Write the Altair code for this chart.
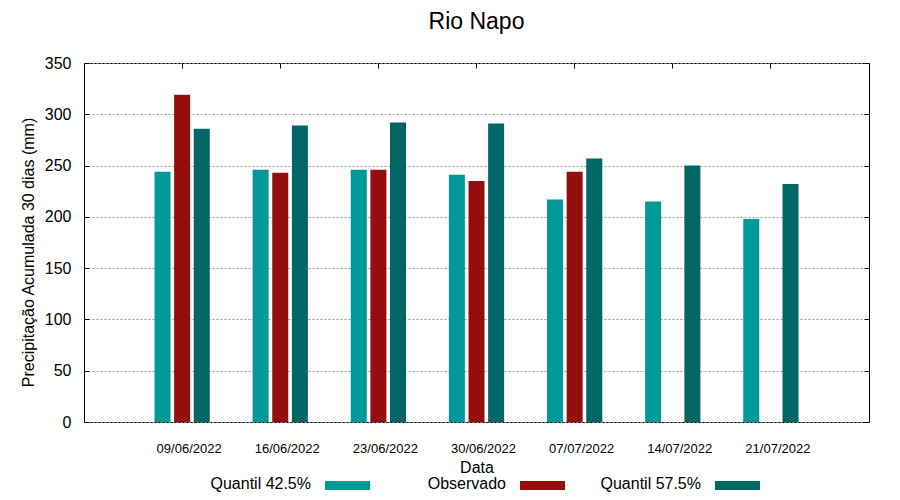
import altair as alt
import pandas as pd

dates = ["09/06/2022", "16/06/2022", "23/06/2022", "30/06/2022",
         "07/07/2022", "14/07/2022", "21/07/2022"]
series = ["Quantil 42.5%", "Observado", "Quantil 57.5%"]
colors = ["#009999", "#940e0e", "#006666"]
q425 = [244, 246, 246, 241, 217, 215, 198]
obs = [319, 243, 246, 235, 244, None, None]
q575 = [286, 289, 292, 291, 257, 250, 232]

rows = []
for i, d in enumerate(dates):
    for s, vals in zip(series, [q425, obs, q575]):
        if vals[i] is not None:
            rows.append({"Data": d, "Serie": s, "Valor": vals[i]})
df = pd.DataFrame(rows)

FONT = "Liberation Sans"
yvals = [0, 50, 100, 150, 200, 250, 300, 350]

xscale = alt.Scale(paddingInner=0, paddingOuter=0.5)
yscale = alt.Scale(domain=[0, 350], nice=False)
xoff = alt.XOffset("Serie:N", sort=series,
                   scale=alt.Scale(domain=series, paddingInner=0, paddingOuter=1))
cenc = alt.Color("Serie:N", scale=alt.Scale(domain=series, range=colors), legend=None)

bars = alt.Chart(df).mark_bar(size=16).encode(
    x=alt.X("Data:N", sort=dates, scale=xscale,
            axis=alt.Axis(title="Data", labelAngle=0, ticks=False, domain=False,
                          labelFontSize=13, labelPadding=20, labelOffset=7,
                          titleFontSize=16, titleFontWeight="normal",
                          titlePadding=4, labelColor="black", titleColor="black",
                          labelFont=FONT, titleFont=FONT)),
    xOffset=xoff,
    y=alt.Y("Valor:Q", scale=yscale,
            axis=alt.Axis(title="Precipitação Acumulada 30 dias (mm)",
                          values=yvals, ticks=True, tickSize=5, offset=-5,
                          tickColor="black", tickWidth=1,
                          domain=False, grid=True,
                          gridColor="#999999", gridDash=[2, 2], gridWidth=1,
                          labelFontSize=16, labelPadding=13, titleFontSize=16,
                          titleFontWeight="normal", titlePadding=8, titleY=189,
                          labelColor="black", titleColor="black",
                          labelFont=FONT, titleFont=FONT)),
    color=cenc,
)

ticks_layer = alt.Chart(df).mark_bar(size=16, opacity=0).encode(
    x=alt.X("Data:N", sort=dates, scale=xscale,
            axis=alt.Axis(orient="top", title=None, labels=False, domain=False,
                          ticks=True, tickSize=5, offset=-5, tickColor="black",
                          tickWidth=1, grid=False)),
    xOffset=xoff,
    y=alt.Y("Valor:Q", scale=yscale,
            axis=alt.Axis(orient="right", title=None, labels=False, domain=False,
                          values=yvals, ticks=True, tickSize=5, offset=-5,
                          tickColor="black", tickWidth=1, grid=False)),
)

main = alt.layer(bars, ticks_layer).resolve_axis(x="independent", y="independent").properties(
    width=785, height=359,
    view=alt.ViewBackground(stroke="black", strokeWidth=1),
    title=alt.TitleParams("Rio Napo", fontSize=23, fontWeight="normal", font=FONT,
                          color="black", anchor="middle", offset=21),
)

leg_df = pd.DataFrame({"Serie": series})
leg_x = alt.X("Serie:N", sort=series, axis=None,
              scale=alt.Scale(type="point", domain=series, range=[241, 631], padding=0))
leg_text = alt.Chart(leg_df).mark_text(align="right", baseline="middle", dx=-14,
                                       fontSize=16, font=FONT, color="black").encode(
    x=leg_x, y=alt.value(7), text="Serie:N")
leg_rect = alt.Chart(leg_df).mark_rect(x2Offset=45).encode(
    x=leg_x, x2="Serie:N", y=alt.value(4), y2=alt.value(13), color=cenc)
legend = alt.layer(leg_text, leg_rect).properties(
    width=785, height=20, view=alt.ViewBackground(stroke=None))

chart = alt.vconcat(main, legend, spacing=0).configure(
    padding={"left": 11, "top": 2, "right": 5, "bottom": 0}
).configure_view(stroke=None)

chart.save("out.html", embed_options={"renderer": "svg", "actions": False})
